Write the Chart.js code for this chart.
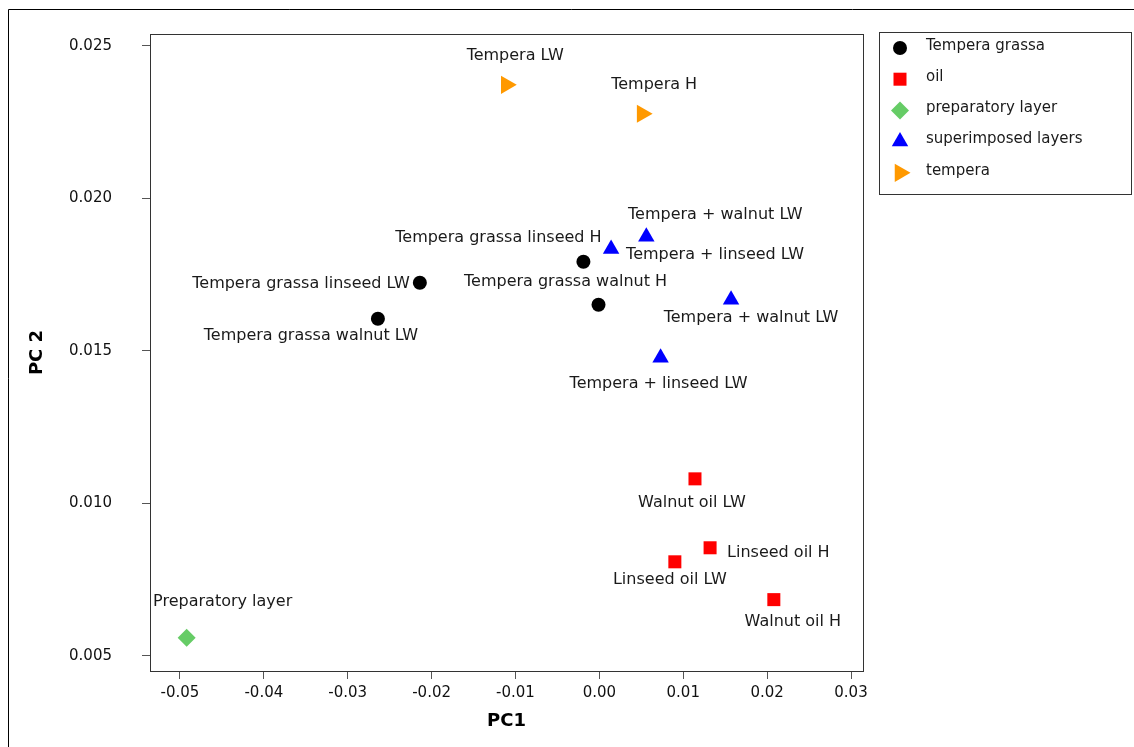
<!DOCTYPE html>
<html>
<head>
<meta charset="utf-8">
<title>PCA scores</title>
<script src="https://cdn.jsdelivr.net/npm/chart.js@4.4.1/dist/chart.umd.min.js"></script>
<style>
  html, body { margin: 0; padding: 0; background: #fff; }
  #wrap { width: 1134px; height: 747px; position: relative; }
</style>
</head>
<body>
<div id="wrap"><canvas id="pca"></canvas></div>
<script>
// groups shown in the legend
const groupNames = ['Tempera grassa', 'oil', 'preparatory layer', 'superimposed layers', 'tempera'];

// PC1 / PC2 scores
const grassaX = [-0.0214, -0.0264, -0.0019, -0.0001];
const grassaY = [0.01723, 0.01605, 0.01792, 0.01651];
const grassaLabels = ['Tempera grassa linseed LW', 'Tempera grassa walnut LW', 'Tempera grassa linseed H', 'Tempera grassa walnut H'];

const oilX = [0.0114, 0.0132, 0.0090, 0.0208];
const oilY = [0.01080, 0.00854, 0.00808, 0.00684];
const oilLabels = ['Walnut oil LW', 'Linseed oil H', 'Linseed oil LW', 'Walnut oil H'];

const prepX = [-0.0492];
const prepY = [0.00559];
const prepLabels = ['Preparatory layer'];

const superX = [0.0014, 0.0056, 0.0157, 0.0073];
const superY = [0.01834, 0.01874, 0.01667, 0.01477];
const superLabels = ['Tempera + linseed LW', 'Tempera + walnut LW', 'Tempera + walnut LW', 'Tempera + linseed LW'];

const temperaX = [-0.0111, 0.0051];
const temperaY = [0.02372, 0.02277];
const temperaLabels = ['Tempera LW', 'Tempera H'];

// where each point label sits relative to its marker: [dx, dy, align]
const labelOffsets = [
    [[-10, 1, 'right'], [-67, 17, 'center'], [-85, -24, 'center'], [-33, -23, 'center']],
    [[-3, 24, 'center'], [17, 5, 'left'], [-5, 18, 'center'], [19, 22, 'center']],
    [[36, -36, 'center']],
    [[15, 6, 'left'], [69, -22, 'center'], [20, 18, 'center'], [-2, 26, 'center']],
    [[9, -29, 'center'], [12, -29, 'center']]
];

const FONT = "'DejaVu Sans', Verdana, sans-serif";

function toPoints(xs, ys) {
    return xs.map((x, i) => ({ x: x, y: ys[i] }));
}

const datasets = [
    { label: groupNames[0], data: toPoints(grassaX, grassaY), texts: grassaLabels,
      pointStyle: 'circle', pointRadius: 7, backgroundColor: '#000000', borderColor: '#000000' },
    { label: groupNames[1], data: toPoints(oilX, oilY), texts: oilLabels,
      pointStyle: 'rect', pointRadius: 9.2, backgroundColor: '#ff0000', borderColor: '#ff0000' },
    { label: groupNames[2], data: toPoints(prepX, prepY), texts: prepLabels,
      pointStyle: 'rectRot', pointRadius: 9, backgroundColor: '#66cc66', borderColor: '#66cc66' },
    { label: groupNames[3], data: toPoints(superX, superY), texts: superLabels,
      pointStyle: 'triangle', pointRadius: 9.5, backgroundColor: '#0000ff', borderColor: '#0000ff' },
    { label: groupNames[4], data: toPoints(temperaX, temperaY), texts: temperaLabels,
      pointStyle: 'triangle', pointRotation: 90, pointRadius: 10.5, backgroundColor: '#ff9900', borderColor: '#ff9900' }
];
datasets.forEach(d => { d.borderWidth = 0; });

// outer frame lines + box round the plot area
const framePlugin = {
    id: 'frame',
    beforeDraw(chart) {
        const ctx = chart.ctx;
        ctx.save();
        ctx.strokeStyle = '#000';
        ctx.lineWidth = 1;
        ctx.beginPath();
        ctx.moveTo(8.5, 747);
        ctx.lineTo(8.5, 9.5);
        ctx.lineTo(1134, 9.5);
        ctx.stroke();
        ctx.restore();
    },
    afterDraw(chart) {
        const a = chart.chartArea;
        const ctx = chart.ctx;
        ctx.save();
        ctx.strokeStyle = '#333';
        ctx.lineWidth = 1;
        ctx.strokeRect(Math.round(a.left) + 0.5, Math.round(a.top) + 0.5,
            Math.round(a.right - a.left), Math.round(a.bottom - a.top));
        ctx.restore();
    }
};

// text labels next to each marker
const pointLabelPlugin = {
    id: 'pointLabels',
    afterDatasetsDraw(chart) {
        const ctx = chart.ctx;
        ctx.save();
        ctx.font = '16px ' + FONT;
        ctx.fillStyle = '#1a1a1a';
        ctx.textBaseline = 'middle';
        chart.data.datasets.forEach((ds, di) => {
            const meta = chart.getDatasetMeta(di);
            meta.data.forEach((el, i) => {
                const off = labelOffsets[di][i];
                ctx.textAlign = off[2];
                ctx.fillText(ds.texts[i], el.x + off[0], el.y + off[1]);
            });
        });
        ctx.restore();
    }
};

// boxed legend on the right
const boxLegendPlugin = {
    id: 'boxLegend',
    afterDraw(chart) {
        const ctx = chart.ctx;
        const left = 879, top = 32, w = 252, h = 162;
        ctx.save();
        ctx.strokeStyle = '#333';
        ctx.lineWidth = 1;
        ctx.strokeRect(left + 0.5, top + 0.5, w, h);
        ctx.font = '15px ' + FONT;
        ctx.fillStyle = '#1a1a1a';
        ctx.textAlign = 'left';
        ctx.textBaseline = 'middle';
        chart.data.datasets.forEach((ds, i) => {
            const y = top + 14 + i * 31.2;
            ctx.fillStyle = ds.backgroundColor;
            Chart.helpers.drawPoint(ctx, {
                pointStyle: ds.pointStyle,
                rotation: ds.pointRotation || 0,
                radius: ds.pointRadius,
                borderWidth: 0
            }, 900, y + 2);
            ctx.fillStyle = '#1a1a1a';
            ctx.fillText(ds.label, 926, y);
        });
        ctx.restore();
    }
};

new Chart(document.getElementById('pca'), {
    type: 'scatter',
    data: { datasets: datasets },
    plugins: [framePlugin, pointLabelPlugin, boxLegendPlugin],
    options: {
        responsive: true,
        maintainAspectRatio: false,
        animation: false,
        layout: { padding: { left: 0, top: 34, right: 271, bottom: 0 } },
        plugins: {
            legend: { display: false },
            tooltip: { enabled: false }
        },
        scales: {
            x: {
                type: 'linear',
                min: -0.05357,
                max: 0.03143,
                afterFit: (scale) => { scale.height = 76; },
                grid: { drawOnChartArea: false, tickLength: 8, color: '#555' },
                border: { color: '#333' },
                ticks: {
                    stepSize: 0.01,
                    includeBounds: false,
                    padding: 5,
                    color: '#111',
                    font: { family: FONT, size: 15 },
                    callback: (v) => v.toFixed(2)
                },
                title: {
                    display: true,
                    text: 'PC1',
                    color: '#000',
                    font: { family: FONT, size: 18, weight: 'bold' },
                    padding: { top: 0, bottom: 15 }
                }
            },
            y: {
                type: 'linear',
                min: 0.00450,
                max: 0.025385,
                afterFit: (scale) => {
                    scale.width = 150;
                    // the wide label gap should not push the plot down
                    scale.paddingTop = 0;
                    scale.paddingBottom = 0;
                },
                grid: { drawOnChartArea: false, tickLength: 8, color: '#555' },
                border: { color: '#333' },
                ticks: {
                    stepSize: 0.005,
                    includeBounds: false,
                    padding: 30,
                    color: '#111',
                    font: { family: FONT, size: 15 },
                    callback: (v) => v.toFixed(3)
                },
                title: {
                    display: true,
                    text: 'PC 2',
                    color: '#000',
                    font: { family: FONT, size: 18, weight: 'bold' },
                    padding: { top: 27, bottom: 0 }
                }
            }
        }
    }
});
</script>
</body>
</html>
